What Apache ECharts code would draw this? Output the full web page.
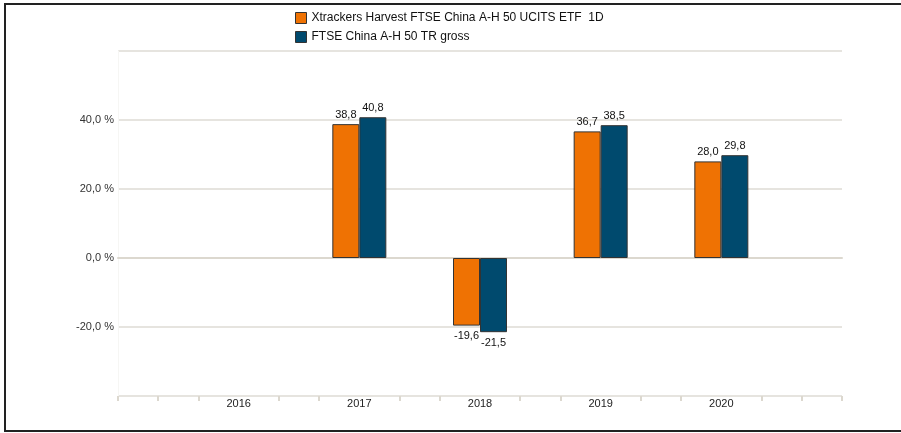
<!DOCTYPE html>
<html>
<head>
<meta charset="utf-8">
<script src="https://cdn.jsdelivr.net/npm/echarts@6/dist/echarts.min.js"></script>
<style>
html,body{margin:0;padding:0;background:#fff;}
#chart{width:901px;height:433px;}
</style>
</head>
<body>
<div id="chart"></div>
<script>
var years = ['2016', '2017', '2018', '2019', '2020'];
var seriesNames = ['Xtrackers Harvest FTSE China A-H 50 UCITS ETF  1D', 'FTSE China A-H 50 TR gross'];
var etfValues = [null, 38.8, -19.6, 36.7, 28.0];
var indexValues = [null, 40.8, -21.5, 38.5, 29.8];
var yTicks = [-20, 0, 20, 40];
var colors = ['#ef7203', '#004a6e'];

var cats = [''].concat(years).concat(['']);
function fmt(v) { return v.toFixed(1).replace('.', ','); }
function toData(vals) {
  var out = [null];
  vals.forEach(function (v) {
    if (v === null) { out.push(null); return; }
    out.push({
      value: v,
      label: { position: v < 0 ? 'bottom' : 'top', distance: v < 0 ? 5 : 4 }
    });
  });
  out.push(null);
  return out;
}
var tickCats = [];
for (var i = 0; i <= (cats.length - 1) * 3; i++) tickCats.push('t' + i);

var chart = echarts.init(document.getElementById('chart'), null, { renderer: 'canvas' });
var labelStyle = {
  show: true,
  color: '#111',
  fontSize: 11,
  fontFamily: 'Liberation Sans, Arial, sans-serif',
  formatter: function (p) { return fmt(p.value); }
};
chart.setOption({
  animation: false,
  backgroundColor: '#fff',
  textStyle: { fontFamily: 'Liberation Sans, Arial, sans-serif' },
  graphic: [{
    type: 'polyline',
    shape: { points: [[910, 4], [5, 4], [5, 431], [910, 431]] },
    style: { stroke: '#222', lineWidth: 2, fill: null },
    silent: true
  }],
  legend: {
    orient: 'vertical',
    left: 290,
    top: 7,
    itemWidth: 11,
    itemHeight: 11,
    itemGap: 7,
    icon: 'rect',
    textStyle: { fontSize: 12, color: '#111', fontFamily: 'Liberation Sans, Arial, sans-serif' },
    data: seriesNames.map(function (n, i) {
      return { name: n, itemStyle: { color: colors[i], borderColor: '#333', borderWidth: 1 } };
    })
  },
  grid: { left: 118, right: 59, top: 51, bottom: 37, containLabel: false },
  xAxis: [{
    type: 'category',
    data: cats,
    boundaryGap: false,
    axisLine: { show: true, lineStyle: { color: '#dcd8cf', width: 2 } },
    axisTick: { show: false },
    axisLabel: { color: '#222', fontSize: 11, margin: 2 },
    splitLine: { show: false }
  }, {
    type: 'category',
    data: tickCats,
    boundaryGap: false,
    position: 'bottom',
    axisLine: { show: false },
    axisTick: {
      show: true, length: 5, lineStyle: { color: '#dcd8cf', width: 2 },
      interval: function (idx) { return idx === 0 || idx === tickCats.length - 1 || idx % 3 !== 0; }
    },
    axisLabel: { show: false },
    splitLine: { show: false }
  }],
  yAxis: {
    type: 'value',
    min: -40,
    max: 60,
    interval: 20,
    axisLine: { show: true, lineStyle: { color: '#f6f6f4', width: 1 } },
    axisTick: { show: false },
    axisLabel: {
      color: '#333', fontSize: 11, margin: 4,
      formatter: function (v) { return yTicks.indexOf(v) >= 0 ? fmt(v) + ' %' : ''; }
    },
    splitLine: { show: true, lineStyle: { color: '#dedbd5', width: 1.5 } }
  },
  series: [{
    name: seriesNames[0],
    type: 'bar',
    xAxisIndex: 0,
    data: toData(etfValues),
    barWidth: 27,
    barGap: '0%',
    itemStyle: { color: colors[0], borderColor: '#333', borderWidth: 1 },
    label: labelStyle
  }, {
    name: seriesNames[1],
    type: 'bar',
    xAxisIndex: 0,
    data: toData(indexValues),
    barWidth: 27,
    barGap: '0%',
    itemStyle: { color: colors[1], borderColor: '#333', borderWidth: 1 },
    label: labelStyle
  }]
});
</script>
</body>
</html>
